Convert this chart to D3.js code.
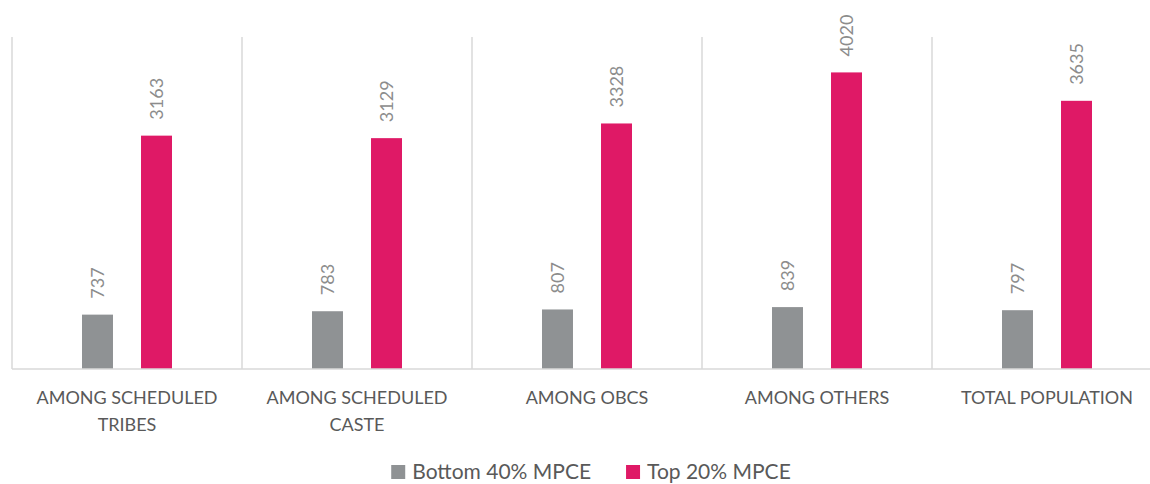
<!DOCTYPE html>
<html>
<head>
<meta charset="utf-8">
<script src="https://cdn.jsdelivr.net/npm/d3@7"></script>
<style>
	body { margin: 0; background: #fff; }
	svg { display: block; font-family: Lato, "Open Sans", sans-serif; }
</style>
</head>
<body>
<script>
// Data
const categories = ["AMONG SCHEDULED TRIBES", "AMONG SCHEDULED CASTE", "AMONG OBCS", "AMONG OTHERS", "TOTAL POPULATION"];
const seriesNames = ["Bottom 40% MPCE", "Top 20% MPCE"];
const bottom40 = [737, 783, 807, 839, 797];
const top20 = [3163, 3129, 3328, 4020, 3635];
const colors = ["#8f9294", "#df1966"];

// View
const width = 1150, height = 484;
const plotLeft = 12, plotRight = 1162, plotTop = 37, plotBottom = 369;

const svg = d3.select("body").append("svg")
	.attr("width", width)
	.attr("height", height);

const x = d3.scaleBand().domain(categories).range([plotLeft, plotRight]);
const y = d3.scaleLinear().domain([0, 4500]).range([plotBottom, plotTop]);

// inner band for two series, centred in each category
const inner = d3.scaleBand().domain(seriesNames).range([-45, 45]).paddingInner(0.475);

// category separators
const seps = d3.range(categories.length + 1).map(i => plotLeft + i * x.step());
svg.append("g").selectAll("line")
	.data(seps)
	.enter().append("line")
	.attr("x1", d => d).attr("x2", d => d)
	.attr("y1", plotTop).attr("y2", plotBottom)
	.attr("stroke", "#d9d9d9").attr("stroke-width", 1.5);

// rows for bars
const rows = [];
categories.forEach((c, i) => {
	rows.push({cat: c, s: 0, v: bottom40[i]});
	rows.push({cat: c, s: 1, v: top20[i]});
});

const cx = d => x(d.cat) + x.bandwidth() / 2 + inner(seriesNames[d.s]);

svg.append("g").selectAll("rect")
	.data(rows)
	.enter().append("rect")
	.attr("x", cx)
	.attr("y", d => y(d.v))
	.attr("width", inner.bandwidth())
	.attr("height", d => y(0) - y(d.v))
	.attr("fill", d => colors[d.s]);

// value labels, rotated
svg.append("g").selectAll("text")
	.data(rows)
	.enter().append("text")
	.attr("transform", d => `translate(${cx(d) + inner.bandwidth() / 2 + 6.5},${y(d.v) - 16}) rotate(-90)`)
	.attr("font-size", 18)
	.attr("fill", "#8c8c8c")
	.text(d => d.v);

// baseline
svg.append("line")
	.attr("x1", plotLeft).attr("x2", width)
	.attr("y1", plotBottom).attr("y2", plotBottom)
	.attr("stroke", "#d9d9d9").attr("stroke-width", 1.5);

// category labels with wrapping
const catLabels = svg.append("g").selectAll("text")
	.data(categories)
	.enter().append("text")
	.attr("x", d => x(d) + x.bandwidth() / 2)
	.attr("y", 404)
	.attr("text-anchor", "middle")
	.attr("font-size", 18)
	.attr("fill", "#595959");

catLabels.each(function(d) {
	let text = d3.select(this);
	let words = d.split(" ");
	let line = [];
	let tspan = text.append("tspan").attr("x", text.attr("x")).attr("dy", 0);
	for (let w of words) {
		line.push(w);
		tspan.text(line.join(" "));
		if (tspan.node().getComputedTextLength() > 210 && line.length > 1) {
			line.pop();
			tspan.text(line.join(" "));
			line = [w];
			tspan = text.append("tspan").attr("x", text.attr("x")).attr("dy", 27).text(w);
		}
	}
});

// legend
const legend = svg.append("g");
const items = legend.selectAll("g")
	.data(seriesNames)
	.enter().append("g");
items.append("rect")
	.attr("width", 14).attr("height", 14)
	.attr("y", 465)
	.attr("fill", (d, i) => colors[i]);
items.append("text")
	.attr("x", 21)
	.attr("y", 479)
	.attr("font-size", 21)
	.attr("fill", "#595959")
	.text(d => d);

let widths = [];
items.each(function() { widths.push(d3.select(this).select("text").node().getComputedTextLength() + 21); });
const gapBetween = 35;
const total = d3.sum(widths) + gapBetween;
let startX = 591 - total / 2;
items.attr("transform", (d, i) => {
	let tx = startX;
	startX += widths[i] + gapBetween;
	return `translate(${tx},0)`;
});
</script>
</body>
</html>
